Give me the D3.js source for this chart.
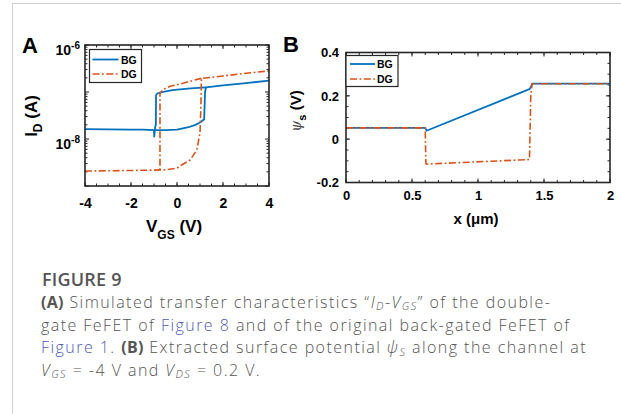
<!DOCTYPE html>
<html><head><meta charset="utf-8">
<script src="https://cdn.jsdelivr.net/npm/d3@7"></script>
<style>
html,body{margin:0;padding:0;background:#fff;}
svg{display:block;}
</style></head>
<body>
<script>
// ---------- DATA ----------
// Panel A: I_D (A) vs V_GS (V)
const bgForwardVgs = [-4, -3, -2, -1.5, -1.0, -0.5, 0, 0.5, 0.8, 1.0, 1.1, 1.18, 1.22, 1.26, 2, 3, 4];
const bgForwardId  = [1.63e-8, 1.61e-8, 1.59e-8, 1.58e-8, 1.55e-8, 1.55e-8, 1.58e-8, 1.78e-8, 2.0e-8, 2.24e-8, 2.45e-8, 2.63e-8, 1.0e-7, 1.26e-7, 1.38e-7, 1.55e-7, 1.74e-7];
const bgReverseVgs = [1.26, 0.6, 0.13, -0.2, -0.6, -0.85, -0.91, -0.92, -0.95, -0.99, -1.0];
const bgReverseId  = [1.26e-7, 1.19e-7, 1.14e-7, 1.10e-7, 1.01e-7, 9.3e-8, 8.6e-8, 2.0e-8, 1.8e-8, 1.12e-8, 1.55e-8];
const dgForwardVgs = [-4, -3, -2, -1, -0.5, 0, 0.13, 0.57, 0.86, 1.0, 1.04, 1.06, 2, 3, 4];
const dgForwardId  = [2.08e-9, 2.11e-9, 2.14e-9, 2.18e-9, 2.21e-9, 2.4e-9, 2.67e-9, 3.57e-9, 5.83e-9, 1.34e-8, 5.0e-8, 1.95e-7, 2.19e-7, 2.51e-7, 2.80e-7];
const dgReverseVgs = [1.06, 0.5, 0.13, -0.3, -0.6, -0.74, -0.74];
const dgReverseId  = [1.95e-7, 1.66e-7, 1.48e-7, 1.32e-7, 1.14e-7, 9.4e-8, 2.19e-9];
const aXTicks = [-4, -2, 0, 2, 4];
const aYTicks = [1e-6, 1e-8];
const aYTickExp = ["-6", "-8"];

// Panel B: surface potential psi_s (V) vs x (um)
const bgX   = [0, 0.6, 0.61, 1.39, 1.40, 1.41, 2];
const bgPsi = [0.052, 0.052, 0.039, 0.231, 0.24, 0.256, 0.256];
const dgX   = [0, 0.6, 0.605, 0.61, 1.39, 1.40, 1.41, 2];
const dgPsi = [0.052, 0.052, -0.11, -0.115, -0.094, 0.20, 0.256, 0.256];
const bXTicks = [0, 0.5, 1, 1.5, 2];
const bXTickLabels = ["0", "0.5", "1", "1.5", "2"];
const bYTicks = [-0.2, 0, 0.2, 0.4];
const bYTickLabels = ["-0.2", "0", "0.2", "0.4"];

const seriesNames = ["BG", "DG"];

// ---------- STYLE ----------
const W = 621, H = 414;
const BLUE = "#0072BD", RED = "#D95319";
const FF = "'Liberation Sans', Arial, sans-serif";
const AXC = "#262626";
const DASHDOT = "7,2.5,1.8,2.5";

const svg = d3.select("body").append("svg").attr("width", W).attr("height", H)
  .style("font-family", FF);
svg.append("rect").attr("width", W).attr("height", H).attr("fill", "#fff");

// light frame
svg.append("path").attr("d", `M12.5,${H} L12.5,3.5 L${W},3.5`)
  .attr("fill", "none").attr("stroke", "#cfcfcf").attr("stroke-width", 1);

// ---------- PANEL A ----------
const ax = d3.scaleLinear().domain([-4, 4]).range([85, 269]);
const ay = d3.scaleLog().domain([1e-9, 1e-6]).range([186, 45]);

function drawBoxTicks(g, x, y, xMajor, xMinor, yMajor, yMinor) {
  const [x0, x1] = x.range(), [y0, y1] = [y.range()[0], y.range()[1]];
  const T = g.append("g").attr("stroke", AXC).attr("stroke-width", 1);
  xMinor.forEach(v => {
    T.append("line").attr("x1", x(v)).attr("x2", x(v)).attr("y1", y0).attr("y2", y0 - 2.5);
    T.append("line").attr("x1", x(v)).attr("x2", x(v)).attr("y1", y1).attr("y2", y1 + 2.5);
  });
  xMajor.forEach(v => {
    T.append("line").attr("x1", x(v)).attr("x2", x(v)).attr("y1", y0).attr("y2", y0 - 4);
    T.append("line").attr("x1", x(v)).attr("x2", x(v)).attr("y1", y1).attr("y2", y1 + 4);
  });
  yMinor.forEach(v => {
    T.append("line").attr("y1", y(v)).attr("y2", y(v)).attr("x1", x0).attr("x2", x0 + 2.5);
    T.append("line").attr("y1", y(v)).attr("y2", y(v)).attr("x1", x1).attr("x2", x1 - 2.5);
  });
  yMajor.forEach(v => {
    T.append("line").attr("y1", y(v)).attr("y2", y(v)).attr("x1", x0).attr("x2", x0 + 4);
    T.append("line").attr("y1", y(v)).attr("y2", y(v)).attr("x1", x1).attr("x2", x1 - 4);
  });
}

const gA = svg.append("g");
const aXMinor = d3.range(-4, 4.001, 0.5);
const aYMinor = [];
for (let e = -9; e < -6; e++) for (let m = 2; m <= 9; m++) aYMinor.push(m * Math.pow(10, e));
drawBoxTicks(gA, ax, ay, aXTicks, aXMinor, [1e-9, 1e-8, 1e-7, 1e-6], aYMinor);

const lineA = d3.line().x(d => ax(d[0])).y(d => ay(d[1]));
const zipA = (xs, ys) => xs.map((v, i) => [v, ys[i]]);
const gAc = gA.append("g").attr("fill", "none").attr("stroke-linejoin", "round");
gAc.append("path").attr("d", lineA(zipA(bgForwardVgs, bgForwardId))).attr("stroke", BLUE).attr("stroke-width", 1.8);
gAc.append("path").attr("d", lineA(zipA(bgReverseVgs, bgReverseId))).attr("stroke", BLUE).attr("stroke-width", 1.8);
gAc.append("path").attr("d", lineA(zipA(dgForwardVgs, dgForwardId))).attr("stroke", RED).attr("stroke-width", 1.6).attr("stroke-dasharray", DASHDOT);
gAc.append("path").attr("d", lineA(zipA(dgReverseVgs, dgReverseId))).attr("stroke", RED).attr("stroke-width", 1.6).attr("stroke-dasharray", DASHDOT);

gA.append("rect").attr("x", 85).attr("y", 45).attr("width", 184).attr("height", 141)
  .attr("fill", "none").attr("stroke", AXC).attr("stroke-width", 1.6);

const axAxis = d3.axisBottom(ax).tickValues(aXTicks).tickSize(0).tickPadding(0).tickFormat(d => d);
const gAx = gA.append("g").attr("transform", "translate(0,186)").call(axAxis);
gAx.select(".domain").remove();
gAx.selectAll("text").attr("y", 22).attr("dy", null).attr("fill", "#000")
  .style("font-family", FF).style("font-size", "14px").style("font-weight", "bold");

const ayAxis = d3.axisLeft(ay).tickValues(aYTicks).tickSize(0).tickFormat("");
const gAy = gA.append("g").attr("transform", "translate(85,0)").call(ayAxis);
gAy.select(".domain").remove();
gAy.selectAll(".tick").each(function(d, i) {
  const t = d3.select(this).append("text").attr("x", -5).attr("y", 9.5)
    .attr("text-anchor", "end").attr("fill", "#000")
    .style("font-family", FF).style("font-weight", "bold").style("font-size", "14px");
  t.append("tspan").text("10");
  t.append("tspan").attr("dy", -6).style("font-size", "10px").text(aYTickExp[i]);
});

const ylA = svg.append("text").attr("transform", "translate(37,116) rotate(-90)")
  .attr("text-anchor", "middle").attr("fill", "#000")
  .style("font-weight", "bold").style("font-size", "17px");
ylA.append("tspan").text("I");
ylA.append("tspan").attr("dy", 5).style("font-size", "12px").text("D");
ylA.append("tspan").attr("dy", -5).text(" (A)");

const xlA = svg.append("text").attr("x", 146).attr("y", 232).attr("fill", "#000")
  .style("font-weight", "bold").style("font-size", "17px");
xlA.append("tspan").text("V");
xlA.append("tspan").attr("dy", 7).style("font-size", "12px").text("GS");
xlA.append("tspan").attr("dy", -7).text(" (V)");

function legend(g, x0, y0, w, h, lx0, lx1, tx, ys) {
  g.append("rect").attr("x", x0).attr("y", y0).attr("width", w).attr("height", h)
    .attr("fill", "#fff").attr("stroke", AXC).attr("stroke-width", 1.2);
  seriesNames.forEach((n, i) => {
    g.append("line").attr("x1", lx0).attr("x2", lx1).attr("y1", ys[i]).attr("y2", ys[i])
      .attr("stroke", i === 0 ? BLUE : RED).attr("stroke-width", i === 0 ? 1.8 : 1.6)
      .attr("stroke-dasharray", i === 0 ? null : DASHDOT);
    g.append("text").attr("x", tx).attr("y", ys[i] + 4).attr("fill", "#000")
      .style("font-weight", "bold").style("font-size", "10.5px").text(n);
  });
}
legend(gA, 89.5, 49.5, 52, 33, 92.5, 118.5, 121, [59.5, 74]);

svg.append("text").attr("x", 22).attr("y", 53).attr("fill", "#000")
  .style("font-weight", "bold").style("font-size", "22px").text("A");

// ---------- PANEL B ----------
const bx = d3.scaleLinear().domain([0, 2]).range([346, 610]);
const by = d3.scaleLinear().domain([-0.2, 0.4]).range([182.5, 52.5]);
const gB = svg.append("g");
drawBoxTicks(gB, bx, by, bXTicks, d3.range(0, 2.001, 0.1), bYTicks, d3.range(-0.2, 0.4001, 0.05));

const lineB = d3.line().x(d => bx(d[0])).y(d => by(d[1]));
const gBc = gB.append("g").attr("fill", "none").attr("stroke-linejoin", "round");
gBc.append("path").attr("d", lineB(zipA(bgX, bgPsi))).attr("stroke", BLUE).attr("stroke-width", 1.8);
gBc.append("path").attr("d", lineB(zipA(dgX, dgPsi))).attr("stroke", RED).attr("stroke-width", 1.6).attr("stroke-dasharray", DASHDOT);

gB.append("rect").attr("x", 346).attr("y", 52.5).attr("width", 264).attr("height", 130)
  .attr("fill", "none").attr("stroke", AXC).attr("stroke-width", 1.6);

const bxAxis = d3.axisBottom(bx).tickValues(bXTicks).tickSize(0).tickFormat((d, i) => bXTickLabels[i]);
const gBx = gB.append("g").attr("transform", "translate(0,182.5)").call(bxAxis);
gBx.select(".domain").remove();
gBx.selectAll("text").attr("y", 17.5).attr("dy", null).attr("fill", "#000")
  .style("font-family", FF).style("font-size", "13px").style("font-weight", "bold");

const byAxis = d3.axisLeft(by).tickValues(bYTicks).tickSize(0).tickPadding(7).tickFormat((d, i) => bYTickLabels[i]);
const gBy = gB.append("g").attr("transform", "translate(346,0)").call(byAxis);
gBy.select(".domain").remove();
gBy.selectAll("text").attr("fill", "#000")
  .style("font-family", FF).style("font-size", "13px").style("font-weight", "bold");

legend(gB, 346, 55.5, 52, 31, 350, 375, 377, [64, 79]);

const ylB = svg.append("text").attr("transform", "translate(301,111) rotate(-90)")
  .attr("text-anchor", "middle").attr("fill", "#000")
  .style("font-size", "15px");
ylB.append("tspan").style("font-family", "'DejaVu Serif', serif").style("font-style", "italic").style("font-size", "14px").attr("fill", "#444").text("ψ");
ylB.append("tspan").attr("dy", 5).style("font-weight", "bold").style("font-size", "11px").text("s");
ylB.append("tspan").attr("dy", -5).style("font-weight", "bold").text(" (V)");

svg.append("text").attr("x", 476).attr("y", 224).attr("text-anchor", "middle").attr("fill", "#000")
  .style("font-weight", "bold").style("font-size", "15px").text("x (μm)");

svg.append("text").attr("x", 283).attr("y", 52).attr("fill", "#000")
  .style("font-weight", "bold").style("font-size", "22px").text("B");

// ---------- CAPTION ----------
const CF = "'Open Sans', 'Noto Sans', sans-serif";
const TXT = "#555", LINK = "#4f5cb0";
const cap = svg.append("g").style("font-family", CF).attr("fill", TXT);
cap.append("text").attr("x", 42).attr("y", 286).style("font-size", "18px").style("font-weight", 600)
  .style("letter-spacing", "0.2px").text("FIGURE 9");

function rich(y, parts) {
  const t = cap.append("text").attr("x", 41).attr("y", y).style("font-size", "16px").style("font-weight", 300)
    .style("letter-spacing", "1.45px");
  let shifted = 0;
  parts.forEach(p => {
    const s = t.append("tspan").text(p.t);
    let dy = 0;
    if (p.sub && !shifted) { dy = 2.2; shifted = 1; }
    else if (!p.sub && shifted) { dy = -2.2; shifted = 0; }
    if (dy) s.attr("dy", dy);
    if (p.sub) s.style("font-size", "11px");
    if (p.b) s.style("font-weight", 700).style("letter-spacing", "0.3px");
    if (p.i) s.style("font-style", "italic");
    if (p.link) s.attr("fill", LINK);
  });
}
rich(308, [{t: "(A)", b: 1}, {t: " Simulated transfer characteristics \u201C"}, {t: "I", i: 1}, {t: "D", i: 1, sub: 1},
  {t: "-"}, {t: "V", i: 1}, {t: "GS", i: 1, sub: 1}, {t: "\u201D of the double-"}]);
rich(330.7, [{t: "gate FeFET of "}, {t: "Figure 8", link: 1}, {t: " and of the original back-gated FeFET of"}]);
rich(353.4, [{t: "Figure 1", link: 1}, {t: ". "}, {t: "(B)", b: 1}, {t: " Extracted surface potential "}, {t: "\u03C8", i: 1},
  {t: "S", i: 1, sub: 1}, {t: " along the channel at"}]);
rich(376, [{t: "V", i: 1}, {t: "GS", i: 1, sub: 1}, {t: " = -4 V and "}, {t: "V", i: 1}, {t: "DS", i: 1, sub: 1}, {t: " = 0.2 V."}]);
</script>
</body></html>
